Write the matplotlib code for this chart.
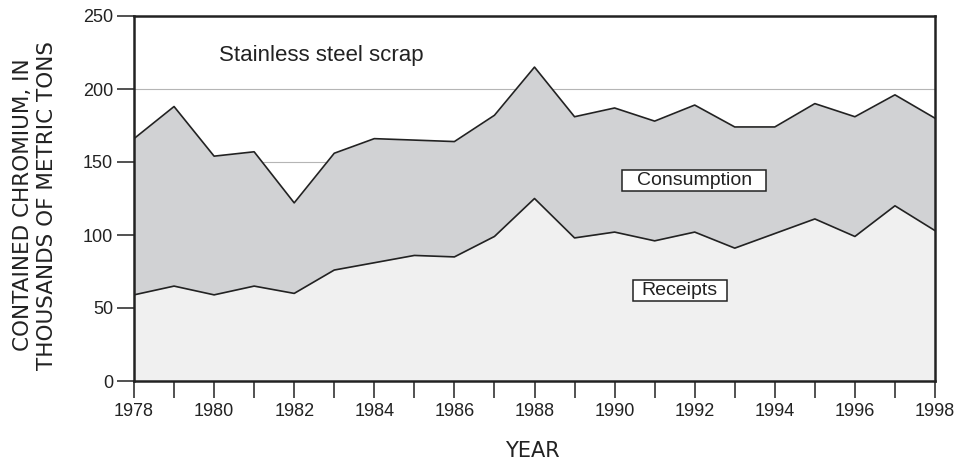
import matplotlib
matplotlib.use("Agg")
import matplotlib.pyplot as plt
from matplotlib.ticker import MultipleLocator
from matplotlib.path import Path

years = list(range(1978, 1999))
consumption = [166, 188, 154, 157, 122, 156, 166, 165, 164, 182, 215,
               181, 187, 178, 189, 174, 174, 190, 181, 196, 180]
receipts = [59, 65, 59, 65, 60, 76, 81, 86, 85, 99, 125,
            98, 102, 96, 102, 91, 101, 111, 99, 120, 103]

yticks = [0, 50, 100, 150, 200, 250]
xticks = list(range(1978, 1999, 2))

plt.rcParams['font.family'] = ['Liberation Sans', 'DejaVu Sans']
INK = '#222222'

fig = plt.figure(figsize=(9.59, 4.63), dpi=100)
ax = fig.add_axes([134/959, 82/463, (935-134)/959, (381-16)/463])

for v in yticks[1:-1]:
    ax.axhline(v, color='#b5b5b5', lw=0.8, zorder=0)

ax.fill_between(years, 0, receipts, color='#f0f0f0', zorder=1, lw=0)
ax.fill_between(years, receipts, consumption, color='#d1d2d4', zorder=1, lw=0)
ax.plot(years, receipts, color=INK, lw=1.2, zorder=2)
ax.plot(years, consumption, color=INK, lw=1.2, zorder=2)

ax.set_xlim(1978, 1998)
ax.set_ylim(0, 250)
ax.set_xticks(xticks)
ax.xaxis.set_minor_locator(MultipleLocator(1))
ax.set_yticks(yticks)
ax.tick_params(axis='both', which='both', direction='out', length=12,
               width=1.1, color=INK, labelsize=13, labelcolor=INK)
ax.tick_params(axis='x', which='both', pad=4)
ax.tick_params(axis='y', pad=3)
for s in ax.spines.values():
    s.set_linewidth(1.8)
    s.set_color(INK)
    s.set_zorder(5)

ax.set_xlabel('YEAR', fontsize=15, color=INK, family='DejaVu Sans')
ax.xaxis.set_label_coords(532/959, (463-441)/463, transform=fig.transFigure)
ax.set_ylabel('CONTAINED CHROMIUM, IN\nTHOUSANDS OF METRIC TONS',
              fontsize=15.5, color=INK, linespacing=1.25, family='DejaVu Sans')
ax.yaxis.set_label_coords(57/959, (463-205)/463, transform=fig.transFigure)


def padded_box(hpad, vpad):
    def style(x0, y0, width, height, mutation_scale):
        ph = hpad * mutation_scale
        pv = vpad * mutation_scale
        x0, y0 = x0 - ph, y0 - pv
        x1, y1 = x0 + width + 2 * ph, y0 + height + 2 * pv
        return Path([(x0, y0), (x1, y0), (x1, y1), (x0, y1), (x0, y0)],
                    closed=True)
    return style


ax.text(1980.12, 223, 'Stainless steel scrap', fontsize=16, color=INK,
        va='center', ha='left', zorder=6)
ax.text(1991.99, 137.3, 'Consumption', fontsize=14, color=INK,
        va='center', ha='center', zorder=6,
        bbox=dict(boxstyle=padded_box(0.75, 0.12), fc='white', ec=INK, lw=1.1))
ax.text(1991.63, 62, 'Receipts', fontsize=14, color=INK,
        va='center', ha='center', zorder=6,
        bbox=dict(boxstyle=padded_box(0.45, 0.12), fc='white', ec=INK, lw=1.1))

fig.savefig('out.png', dpi=100)
